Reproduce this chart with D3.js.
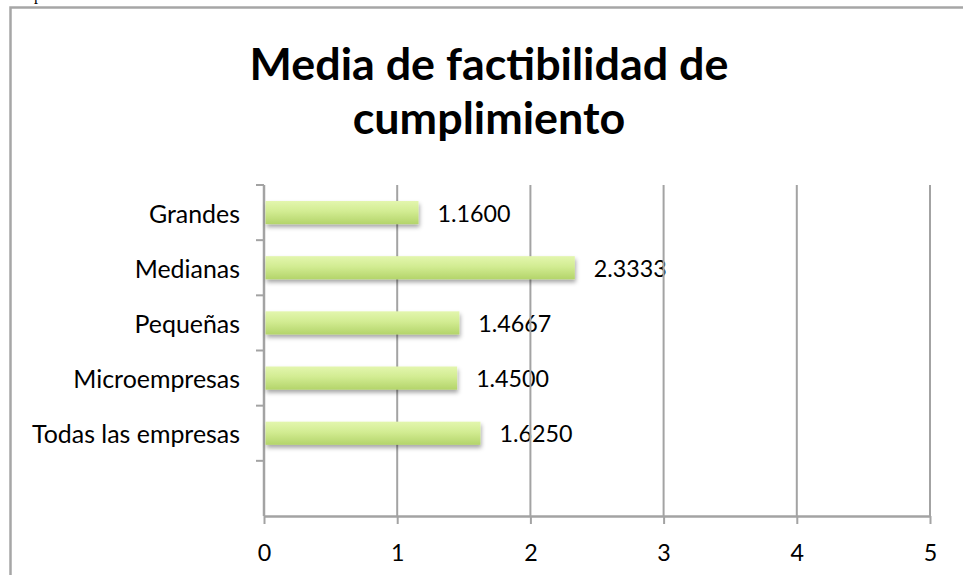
<!DOCTYPE html>
<html>
<head>
<meta charset="utf-8">
<script src="https://cdn.jsdelivr.net/npm/d3@7"></script>
<style>
  html, body { margin: 0; padding: 0; background: #fff; }
  svg { display: block; }
</style>
</head>
<body>
<svg id="chart" width="963" height="575"></svg>
<script>
// Mean feasibility of compliance by company size (top to bottom; last slot is empty)
const categories = ["Grandes", "Medianas", "Pequeñas", "Microempresas", "Todas las empresas", ""];
const values = [1.16, 2.3333, 1.4667, 1.45, 1.625, null];
const valueLabels = ["1.1600", "2.3333", "1.4667", "1.4500", "1.6250", ""];
const xTicks = [0, 1, 2, 3, 4, 5];
const titleLines = ["Media de factibilidad de", "cumplimiento"];

const svg = d3.select("#chart");
const FONT = "Lato, 'Open Sans', sans-serif";
const GRID = "#a3a3a3";

// cut-off text line from the surrounding document
svg.append("text").attr("x", 34).attr("y", 0)
  .attr("font-family", "'Liberation Serif', serif").attr("font-size", 16)
  .text("p");

// chart frame
svg.append("rect")
  .attr("x", 10.5).attr("y", 7.5).attr("width", 1000).attr("height", 700)
  .attr("fill", "#fff").attr("stroke", "#a6a6a6").attr("stroke-width", 2.5);

const plot = { left: 264, right: 930, top: 185, bottom: 516 };

const x = d3.scaleLinear().domain([0, 5]).range([plot.left, plot.right]);
const y = d3.scaleBand().domain(d3.range(categories.length))
  .range([plot.top, plot.bottom]).paddingInner(0.58).paddingOuter(0.29);
const band = (plot.bottom - plot.top) / categories.length;

// scale font size so a reference string reaches a given width
function fitSize(text, base, width, weight) {
  const t = svg.append("text").attr("font-family", FONT).attr("font-size", base)
    .attr("font-weight", weight || "normal").text(text);
  const w = t.node().getComputedTextLength();
  t.remove();
  return base * width / w;
}
const catSize = fitSize("Todas las empresas", 26, 208);
const numSize = fitSize("1.1600", 26, 73);
const titleSize = fitSize(titleLines[0], 43, 479, "bold");

// title
svg.append("g").selectAll("text").data(titleLines).join("text")
  .attr("x", 489).attr("y", (d, i) => 80 + i * 54)
  .attr("text-anchor", "middle")
  .attr("font-family", FONT).attr("font-weight", "bold").attr("font-size", titleSize)
  .attr("fill", "#000").text(d => d);

// shadow + gradient for bars
const defs = svg.append("defs");
const grad = defs.append("linearGradient").attr("id", "barFill")
  .attr("x1", 0).attr("y1", 0).attr("x2", 0).attr("y2", 1);
grad.append("stop").attr("offset", "0%").attr("stop-color", "#e3f6ae");
grad.append("stop").attr("offset", "45%").attr("stop-color", "#d2ec92");
grad.append("stop").attr("offset", "100%").attr("stop-color", "#b3d46a");
const f = defs.append("filter").attr("id", "shadow")
  .attr("x", "-5%").attr("y", "-30%").attr("width", "115%").attr("height", "190%");
f.append("feDropShadow").attr("dx", 1).attr("dy", 3).attr("stdDeviation", 2.2)
  .attr("flood-color", "#000").attr("flood-opacity", 0.35);

// value labels (gridlines run over them)
svg.append("g").selectAll("text").data(values).join("text")
  .filter(d => d != null)
  .attr("x", d => x(d) + 19)
  .attr("y", (d, i) => y(i) + y.bandwidth() / 2)
  .attr("dominant-baseline", "central")
  .attr("font-family", FONT).attr("font-size", numSize).attr("fill", "#000")
  .text((d, i) => valueLabels[i]);

// vertical gridlines
svg.append("g").selectAll("line").data(xTicks.slice(1)).join("line")
  .attr("x1", d => x(d)).attr("x2", d => x(d))
  .attr("y1", plot.top).attr("y2", plot.bottom)
  .attr("stroke", GRID).attr("stroke-width", 2);

// x axis
const xAxis = svg.append("g").attr("transform", `translate(0,${plot.bottom})`)
  .call(d3.axisBottom(x).tickValues(xTicks).tickFormat(d3.format("d")).tickSizeInner(8).tickSizeOuter(0).tickPadding(20));
xAxis.select(".domain").attr("stroke", GRID).attr("stroke-width", 2.5);
xAxis.selectAll(".tick line").attr("stroke", GRID).attr("stroke-width", 2);
xAxis.selectAll(".tick text").attr("font-family", FONT).attr("font-size", numSize)
  .attr("fill", "#000").attr("dy", "0.71em");

// y axis with ticks between categories
const yAxis = svg.append("g");
yAxis.append("line").attr("x1", plot.left).attr("x2", plot.left)
  .attr("y1", plot.top).attr("y2", plot.bottom)
  .attr("stroke", GRID).attr("stroke-width", 2.5);
yAxis.selectAll("line.tk").data(d3.range(categories.length)).join("line").attr("class", "tk")
  .attr("x1", plot.left - 8).attr("x2", plot.left)
  .attr("y1", i => plot.top + i * band).attr("y2", i => plot.top + i * band)
  .attr("stroke", GRID).attr("stroke-width", 2);
yAxis.selectAll("text").data(categories).join("text")
  .attr("x", plot.left - 24)
  .attr("y", (d, i) => y(i) + y.bandwidth() / 2)
  .attr("text-anchor", "end").attr("dominant-baseline", "central")
  .attr("font-family", FONT).attr("font-size", catSize).attr("fill", "#000")
  .text(d => d);

// bars
svg.append("g").selectAll("rect").data(values).join("rect")
  .filter(d => d != null)
  .attr("x", x(0) + 1.5)
  .attr("y", (d, i) => y(i))
  .attr("width", d => x(d) - x(0) - 1.5)
  .attr("height", y.bandwidth())
  .attr("fill", "url(#barFill)")
  .attr("filter", "url(#shadow)");
</script>
</body>
</html>
